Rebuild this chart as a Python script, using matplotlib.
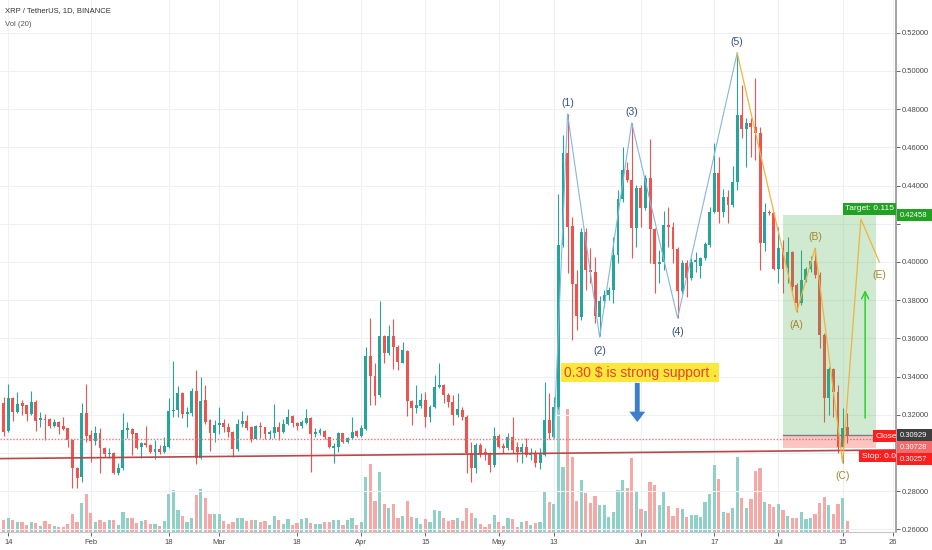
import matplotlib
matplotlib.use("Agg")
import matplotlib.pyplot as plt
import matplotlib.dates as mdates
from matplotlib.patches import Rectangle
import pandas as pd

plt.rcParams['font.family'] = ['Liberation Sans', 'DejaVu Sans']

# daily XRP/USDT candles, 2019-01-13 .. 2019-07-16
first_day = "2019-01-13"
opens = [
    .3260, .3115, .3290, .3216, .3260, .3250, .3204, .3268, .3172, .3180,
    .3178, .3143, .3160, .3143, .3129, .3068, .2924, .2872, .3212, .3094,
    .3064, .3106, .3024, .2994, .3001, .2893, .2919, .3120, .3124, .3103,
    .3029, .3052, .3041, .3006, .3019, .3006, .3033, .3218, .3225, .3316,
    .3204, .3207, .3324, .2972, .3277, .3172, .3106, .3146, .3158, .3137,
    .3111, .3020, .3151, .3167, .3137, .3073, .3143, .3134, .3099, .3103,
    .3137, .3111, .3151, .3193, .3158, .3142, .3159, .3185, .3100, .3107,
    .3117, .3082, .3025, .3033, .3103, .3060, .3077, .3115, .3089, .3124,
    .3508, .3403, .3304, .3613, .3526, .3613, .3557, .3473, .3536, .3274,
    .3234, .3246, .3278, .3190, .3243, .3348, .3355, .3304, .3269, .3199,
    .3225, .3190, .2999, .2920, .3042, .3007, .2999, .2937, .3089, .3039,
    .3025, .3082, .3033, .3007, .3033, .2990, .2995, .2950, .2990, .3173,
    .3086, .3243, .4089, .4569, .4189, .3885, .3714, .4159, .3959, .3950,
    .3714, .3798, .3828, .3854, .4037, .4329, .4482, .4430, .4177, .4386,
    .4281, .4438, .4172, .3990, .4002, .4194, .4185, .4067, .3850, .3997,
    .3915, .4002, .3981, .4020, .4089, .4264, .4465, .4264, .4342, .4299,
    .4421, .4770, .4695, .4730, .4709, .4674, .4102, .4264, .4259, .3962,
    .4072, .3967, .4050, .3879, .3783, .3906, .3962, .4007, .3932, .3618,
    .3286, .3438, .3321, .3033, .3134,
]
closes = [
    .3110, .3290, .3216, .3256, .3247, .3204, .3268, .3169, .3181, .3172,
    .3143, .3160, .3137, .3125, .3068, .2924, .2867, .3212, .3090, .3064,
    .3106, .3024, .2994, .3001, .2896, .2919, .3120, .3129, .3099, .3024,
    .3052, .3041, .3006, .3019, .3006, .3036, .3221, .3225, .3316, .3204,
    .3216, .3324, .2972, .3274, .3164, .3106, .3146, .3158, .3137, .3111,
    .3020, .3151, .3167, .3129, .3073, .3143, .3134, .3099, .3108, .3137,
    .3111, .3151, .3190, .3155, .3143, .3164, .3182, .3098, .3112, .3121,
    .3082, .3033, .3039, .3107, .3060, .3081, .3112, .3089, .3130, .3508,
    .3403, .3299, .3613, .3526, .3613, .3557, .3478, .3540, .3274, .3234,
    .3252, .3278, .3190, .3243, .3348, .3355, .3304, .3269, .3199, .3229,
    .3190, .2999, .2920, .3042, .2995, .2999, .2937, .3089, .3033, .3025,
    .3082, .3016, .3007, .3033, .2990, .3002, .2950, .2995, .3173, .3103,
    .3243, .4089, .4569, .4185, .3885, .3718, .4159, .3959, .3950, .3718,
    .3798, .3828, .3854, .4037, .4329, .4482, .4430, .4177, .4386, .4281,
    .4438, .4172, .3990, .4002, .4194, .4185, .4067, .3850, .3997, .3915,
    .4002, .4010, .4020, .4093, .4264, .4465, .4264, .4342, .4299, .4421,
    .4770, .4695, .4730, .4709, .4674, .4102, .4264, .4255, .3962, .4072,
    .3962, .4050, .3871, .3783, .3906, .3962, .4007, .3932, .3618, .3286,
    .3438, .3321, .3033, .3129, .3093,
]
highs = [
    .3295, .3360, .3295, .3320, .3280, .3253, .3326, .3277, .3216, .3202,
    .3181, .3178, .3169, .3190, .3132, .3071, .2928, .3263, .3359, .3120,
    .3141, .3132, .3033, .3024, .3007, .2949, .3211, .3164, .3129, .3106,
    .3059, .3143, .3047, .3068, .3041, .3085, .3286, .3481, .3351, .3321,
    .3242, .3338, .3434, .3399, .3356, .3176, .3172, .3242, .3176, .3155,
    .3115, .3176, .3219, .3198, .3141, .3148, .3164, .3137, .3120, .3254,
    .3164, .3180, .3228, .3198, .3164, .3173, .3230, .3190, .3130, .3130,
    .3121, .3086, .3051, .3112, .3107, .3086, .3190, .3121, .3147, .3557,
    .3705, .3470, .3798, .3618, .3670, .3700, .3566, .3583, .3540, .3278,
    .3356, .3313, .3321, .3252, .3409, .3470, .3360, .3313, .3304, .3313,
    .3243, .3199, .3060, .3051, .3051, .3025, .3007, .3138, .3100, .3051,
    .3103, .3187, .3060, .3051, .3077, .3025, .3016, .3025, .3374, .3313,
    .3295, .4357, .4665, .4775, .4238, .3959, .4177, .4177, .4072, .4028,
    .3823, .3854, .3871, .4133, .4377, .4604, .4526, .4727, .4404, .4404,
    .4456, .4643, .4177, .4063, .4269, .4290, .4212, .4081, .4011, .4011,
    .4020, .4050, .4028, .4107, .4290, .4622, .4552, .4381, .4377, .4500,
    .5096, .4927, .4753, .4753, .4962, .4709, .4308, .4273, .4264, .4185,
    .4115, .4133, .4060, .3890, .4065, .3975, .4030, .4072, .3950, .3626,
    .3452, .3445, .3356, .3234, .3208,
]
lows = [
    .3090, .3110, .3165, .3207, .3198, .3165, .3198, .3116, .3137, .3068,
    .3129, .3134, .3102, .3120, .3033, .2815, .2815, .2849, .3059, .2954,
    .3041, .2893, .2980, .2972, .2890, .2884, .2910, .3076, .2989, .3020,
    .2972, .3033, .2998, .2966, .2994, .2998, .3024, .3190, .3186, .3181,
    .3137, .3193, .2942, .2966, .3151, .3012, .3059, .3102, .3111, .3085,
    .2980, .3012, .3137, .3120, .3060, .3071, .3076, .3071, .3073, .3076,
    .3068, .3106, .3146, .3137, .3120, .3130, .3152, .2903, .3086, .3095,
    .3072, .3025, .2946, .3007, .3051, .3054, .3072, .3086, .3086, .3121,
    .3252, .3252, .3295, .3470, .3513, .3438, .3435, .3470, .3194, .3147,
    .3208, .3234, .3135, .3164, .3234, .3339, .3260, .3243, .3147, .3190,
    .3173, .2897, .2850, .2894, .2981, .2964, .2903, .2929, .3025, .2999,
    .3016, .2999, .2955, .2950, .2981, .2964, .2929, .2915, .2985, .3072,
    .3077, .3230, .4081, .3941, .3592, .3644, .3697, .3854, .3889, .3679,
    .3610, .3767, .3802, .3784, .3993, .4316, .4421, .4020, .4081, .4185,
    .4273, .3993, .3836, .3889, .3959, .4081, .3993, .3707, .3833, .3819,
    .3905, .3950, .3915, .4011, .4081, .4255, .4203, .4238, .4203, .4290,
    .4377, .4648, .4499, .4552, .4534, .3959, .4055, .4247, .3959, .3889,
    .3836, .3889, .3850, .3740, .3775, .3897, .3950, .3914, .3548, .3164,
    .3199, .3190, .2998, .2946, .3051,
]
volumes = [
    37, 43, 35, 31, 31, 21, 29, 27, 19, 33,
    25, 17, 15, 15, 25, 55, 29, 87, 113, 57,
    29, 35, 29, 35, 37, 20, 59, 42, 42, 27,
    33, 35, 25, 23, 19, 33, 113, 127, 67, 48,
    29, 41, 111, 130, 101, 55, 53, 53, 33, 23,
    31, 41, 43, 33, 35, 37, 29, 33, 20, 49,
    35, 25, 39, 20, 27, 39, 43, 27, 23, 23,
    31, 31, 37, 35, 20, 35, 41, 20, 29, 165,
    205, 93, 179, 83, 71, 83, 43, 47, 93, 45,
    41, 23, 39, 29, 67, 63, 41, 33, 35, 41,
    33, 73, 56, 43, 23, 15, 25, 50, 30, 18,
    42, 40, 16, 30, 32, 22, 28, 31, 121, 90,
    85, 420, 196, 370, 226, 93, 155, 118, 86, 108,
    82, 82, 46, 60, 126, 156, 132, 223, 123, 68,
    63, 150, 140, 81, 120, 78, 48, 73, 68, 46,
    50, 50, 44, 90, 113, 200, 160, 60, 58, 73,
    225, 103, 73, 98, 183, 193, 90, 83, 75, 85,
    65, 48, 43, 43, 60, 40, 42, 53, 88, 106,
    80, 53, 83, 103, 33,
]

# elliott wave drawing
wave_dates = ["2019-05-13", "2019-05-16", "2019-05-23", "2019-05-30", "2019-06-09", "2019-06-22"]
wave_prices = [0.3077, 0.4775, 0.3607, 0.4728, 0.3707, 0.5094]
wave_labels = ["", "(1)", "(2)", "(3)", "(4)", "(5)"]
abc_dates = ["2019-06-22", "2019-07-05", "2019-07-09", "2019-07-15", "2019-07-19", "2019-07-23"]
abc_prices = [0.5094, 0.3740, 0.4073, 0.2948, 0.4225, 0.4000]
abc_labels = ["", "(A)", "(B)", "(C)", "", "(E)"]

# long position tool and levels
pos_start, pos_end = "2019-07-02", "2019-07-22 07:00"
entry, target, stop = 0.30929, 0.42458, 0.30257
level = 0.30728
trend_dates = ["2019-01-12", "2019-07-27"]
trend_prices = [0.29706, 0.30161]

tick_dates = ["2019-01-14", "2019-02-01", "2019-02-18", "2019-03-01", "2019-03-18", "2019-04-01",
              "2019-04-15", "2019-05-01", "2019-05-13", "2019-06-01", "2019-06-17", "2019-07-01",
              "2019-07-15", "2019-07-26"]
tick_labels = ["14", "Feb", "18", "Mar", "18", "Apr", "15", "May", "13", "Jun", "17", "Jul", "15", "26"]
price_ticks = [0.26, 0.28, 0.30, 0.32, 0.34, 0.36, 0.38, 0.40, 0.42, 0.44, 0.46, 0.48, 0.50, 0.52]

UP, DOWN = "#26a69a", "#ef5350"
T = pd.Timestamp
dates = pd.date_range(first_day, periods=len(opens), freq="D")

fig = plt.figure(figsize=(9.32, 5.5), dpi=100, facecolor="white")
rect = [0, 18 / 550, 896 / 932, 532 / 550]
axv = fig.add_axes(rect)
ax = fig.add_axes(rect, sharex=axv)
axv.set_zorder(1)
ax.set_zorder(2)
ax.patch.set_alpha(0)

# volume pane
up = [c >= o for o, c in zip(opens, closes)]
axv.bar(dates, volumes, width=0.7, color=["#8fd1c9" if u else "#f5a8a6" for u in up], linewidth=0)
axv.set_ylim(0, 1596)
axv.set_yticks([])
axv.tick_params(axis="x", which="both", length=0, labelbottom=False)
for s in axv.spines.values():
    s.set_visible(False)
axv.grid(axis="x", color="#eef0f4", lw=0.8)
axv.set_axisbelow(True)

# candles
ax.vlines(dates, lows, highs, colors=[UP if u else DOWN for u in up], lw=0.8, zorder=3)
bottoms = [min(o, c) for o, c in zip(opens, closes)]
heights = [max(abs(c - o), 0.0004) for o, c in zip(opens, closes)]
ax.bar(dates, heights, bottom=bottoms, width=0.64, color=[UP if u else DOWN for u in up],
       linewidth=0, zorder=4)

ax.set_xlim(mdates.date2num(T("2019-01-14")) - 1.81, mdates.date2num(T("2019-01-14")) + 193.65)
ax.set_ylim(0.25864, 0.53717)

# levels
ax.plot([T(d) for d in trend_dates], trend_prices, color="#b84848", lw=1.2, zorder=5)
ax.axhline(level, color="#f07474", lw=1.0, ls=(0, (1, 1.3)), zorder=5)

# position tool
x0, x1 = mdates.date2num(T(pos_start)), mdates.date2num(T(pos_end))
ax.add_patch(Rectangle((x0, entry), x1 - x0, target - entry, fc="#4caf50", alpha=0.26, lw=0, zorder=6))
ax.add_patch(Rectangle((x0, stop), x1 - x0, entry - stop, fc="#f44336", alpha=0.3, lw=0, zorder=6))
ax.plot([x0, x1], [entry, entry], color="#7a7d86", lw=1, zorder=6)

# wave lines and labels
ax.plot([T(d) for d in wave_dates], wave_prices, color="#86b6de", lw=0.8, zorder=7)
ax.plot([T(d) for d in abc_dates], abc_prices, color="#f1b23e", lw=0.9, zorder=7)
for i, (d, p, lab) in enumerate(zip(wave_dates, wave_prices, wave_labels)):
    if lab:
        dy = 8 if i % 2 == 1 else -10
        ax.annotate(lab, (T(d), p), xytext=(0, dy), textcoords="offset points", ha="center",
                    va="center", fontsize=7.5, color="#34507e", zorder=8)
for i, (d, p, lab) in enumerate(zip(abc_dates, abc_prices, abc_labels)):
    if lab:
        dy = 8 if lab == "(B)" else -9.5
        ax.annotate(lab, (T(d), p), xytext=(0, dy), textcoords="offset points", ha="center",
                    va="center", fontsize=7.5, color="#a8842c", zorder=8)

# arrows
ax.annotate("", xy=(T("2019-05-31 05:00"), 0.3162), xytext=(T("2019-05-31 05:00"), 0.3367),
            arrowprops=dict(arrowstyle="simple,head_length=0.75,head_width=1.15,tail_width=0.35",
                            fc="#3d7fca", ec="none", shrinkA=0, shrinkB=0, mutation_scale=10), zorder=8)
ax.annotate("", xy=(T("2019-07-19 22:00"), 0.3853), xytext=(T("2019-07-19 22:00"), 0.3183),
            arrowprops=dict(arrowstyle="->,head_length=0.5,head_width=0.25", color="#2ed12e",
                            lw=1.1, shrinkA=0, shrinkB=0, mutation_scale=10), zorder=8)

ax.text(T("2019-05-15 05:00"), 0.3419, "0.30 $ is strong support .", fontsize=10, color="#e8412c",
        va="center", ha="left", zorder=9,
        bbox=dict(boxstyle="square,pad=0.18", fc="#fce83a", ec="none"))

# labels of the position tool, cut by the price scale
boxes = [("Target: 0.115", "2019-07-15", 0.42461, 0.43089, "#22a222"),
         ("Close", "2019-07-21 14:00", 0.30576, 0.31204, "#ff1e1e"),
         ("Stop: 0.0", "2019-07-18 14:00", 0.29529, 0.30157, "#ff1e1e")]
for txt, d, lo, hi, col in boxes:
    bx = mdates.date2num(T(d))
    ax.add_patch(Rectangle((bx, lo), 20, hi - lo, fc=col, lw=0, zorder=9))
    ax.text(bx + 0.6, (lo + hi) / 2, txt, fontsize=6, color="white", va="center", ha="left",
            zorder=10, clip_on=True)

# axes styling; 0.30 and 0.42 sit under the price boxes
ax.yaxis.tick_right()
ax.set_yticks(price_ticks)
ax.set_yticklabels(["" if p in (0.30, 0.42) else f"{p:.5f}" for p in price_ticks])
ax.set_xticks([T(d) for d in tick_dates])
ax.set_xticklabels(tick_labels)
ax.tick_params(axis="y", labelsize=5.5, colors="#4a4a4a", length=3, pad=1.5, width=0.6)
ax.tick_params(axis="x", labelsize=5.5, colors="#4a4a4a", length=3, pad=2, width=0.6)
ax.grid(axis="y", color="#eef0f4", lw=0.8)
ax.set_axisbelow(True)
for s in ["top", "left"]:
    ax.spines[s].set_visible(False)
ax.spines["right"].set_color("#9a9da5")
ax.spines["right"].set_linewidth(1.3)
ax.spines["bottom"].set_color("#c4c6cc")
ax.spines["bottom"].set_linewidth(0.8)

# price labels on the scale, stacked like the trading view scale
yt = ax.get_yaxis_transform()
box_h = 0.00628
scale_labels = [(target, target, "#22a222"), (entry, entry, "#3e3e3e"),
                (level, entry - box_h, "#f26a6a"), (stop, entry - 2 * box_h, "#ff1e1e")]
for p, yc, col in scale_labels:
    ax.add_patch(Rectangle((1.001, yc - box_h / 2), 0.042, box_h, transform=yt, fc=col, lw=0,
                           clip_on=False, zorder=11))
    ax.text(1.0045, yc, f"{p:.5f}", transform=yt, fontsize=5.5, color="white", va="center",
            ha="left", zorder=12, clip_on=False)

fig.text(5 / 932, 1 - 11 / 550, "XRP / TetherUS, 1D, BINANCE", fontsize=5.5, color="#333333", va="center")
fig.text(5 / 932, 1 - 24 / 550, "Vol (20)", fontsize=5.5, color="#555555", va="center")

fig.savefig("out.png", dpi=100, facecolor="white")
